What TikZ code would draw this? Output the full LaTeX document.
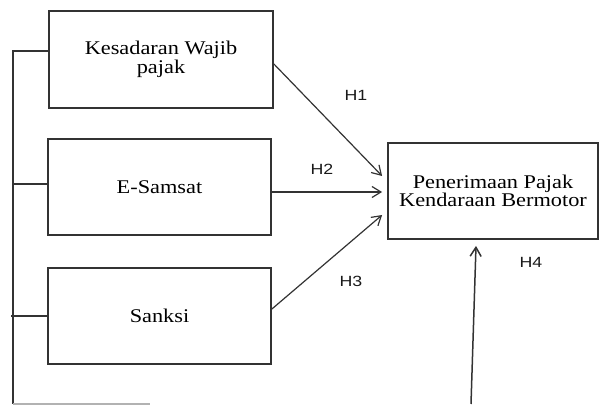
\documentclass[tikz,border=0pt]{standalone}
\usepackage{fontspec}
\setmainfont[FakeStretch=1.15]{Liberation Serif}
\newfontfamily\hfont[FakeStretch=1.2]{Liberation Sans}
\usetikzlibrary{arrows.meta}
\definecolor{lngray}{rgb}{0.2,0.2,0.2}

\begin{document}
\begin{tikzpicture}[x=0.5pt, y=-0.5pt,
    box/.style={rectangle, draw=lngray, line width=0.9pt, inner sep=0pt, align=center, text=black, font=\fontsize{9.7}{9.2}\selectfont},
    hlink/.style={draw=lngray, line width=0.6pt, -{Straight Barb[length=4.5pt,width=5.5pt]}},
    bracket/.style={draw=lngray, line width=0.65pt},
    hlabel/.style={text=black!90, font=\hfont\fontsize{7.4}{8}\selectfont}]
	\useasboundingbox (0,0) rectangle (600,405);

	\node[box, minimum width=112pt, minimum height=48.5pt] (kw) at (161,59.5) {Kesadaran Wajib\\pajak};
	\node[box, minimum width=111.5pt, minimum height=48pt] (es) at (159.5,187) {E-Samsat};
	\node[box, minimum width=111.5pt, minimum height=48pt] (sk) at (159.5,316) {Sanksi};
	\node[box, minimum width=105pt, minimum height=48pt] (pk) at (493,191) {Penerimaan Pajak\\Kendaraan Bermotor};

	\coordinate (top) at (13,51);
	\coordinate (mid) at (12,184);
	\coordinate (low) at (11,316);
	\coordinate (bot) at (13,404);
	\coordinate (tail) at (150,404);
	\coordinate (h4base) at (471,404);

	% left bracket
	\draw[bracket] ([yshift=4.25pt]kw.west) -- (top) -- (bot);
	\draw[bracket] ([yshift=1.5pt]es.west) -- (mid);
	\draw[bracket] (sk.west) -- (low);
	\draw[bracket, draw=gray!60] (bot) -- (tail);

	% hypotheses
	\draw[hlink] ([yshift=-2.25pt]kw.east) -- ([xshift=-2.5pt,yshift=7.5pt]pk.west);
	\draw[hlink] ([yshift=-2.5pt]es.east) -- ([xshift=-2.5pt,yshift=-0.5pt]pk.west);
	\draw[hlink] ([yshift=3.5pt]sk.east) -- ([xshift=-2.5pt,yshift=-12pt]pk.west);
	\draw[hlink, line width=0.75pt] (h4base) -- ([xshift=-8.5pt,yshift=-3pt]pk.south);

	\node[hlabel] (h1) at (356,95) {H1};
	\node[hlabel] (h2) at (322,169) {H2};
	\node[hlabel] (h3) at (351,281) {H3};
	\node[hlabel] (h4) at (531,262) {H4};

\end{tikzpicture}
\end{document}
